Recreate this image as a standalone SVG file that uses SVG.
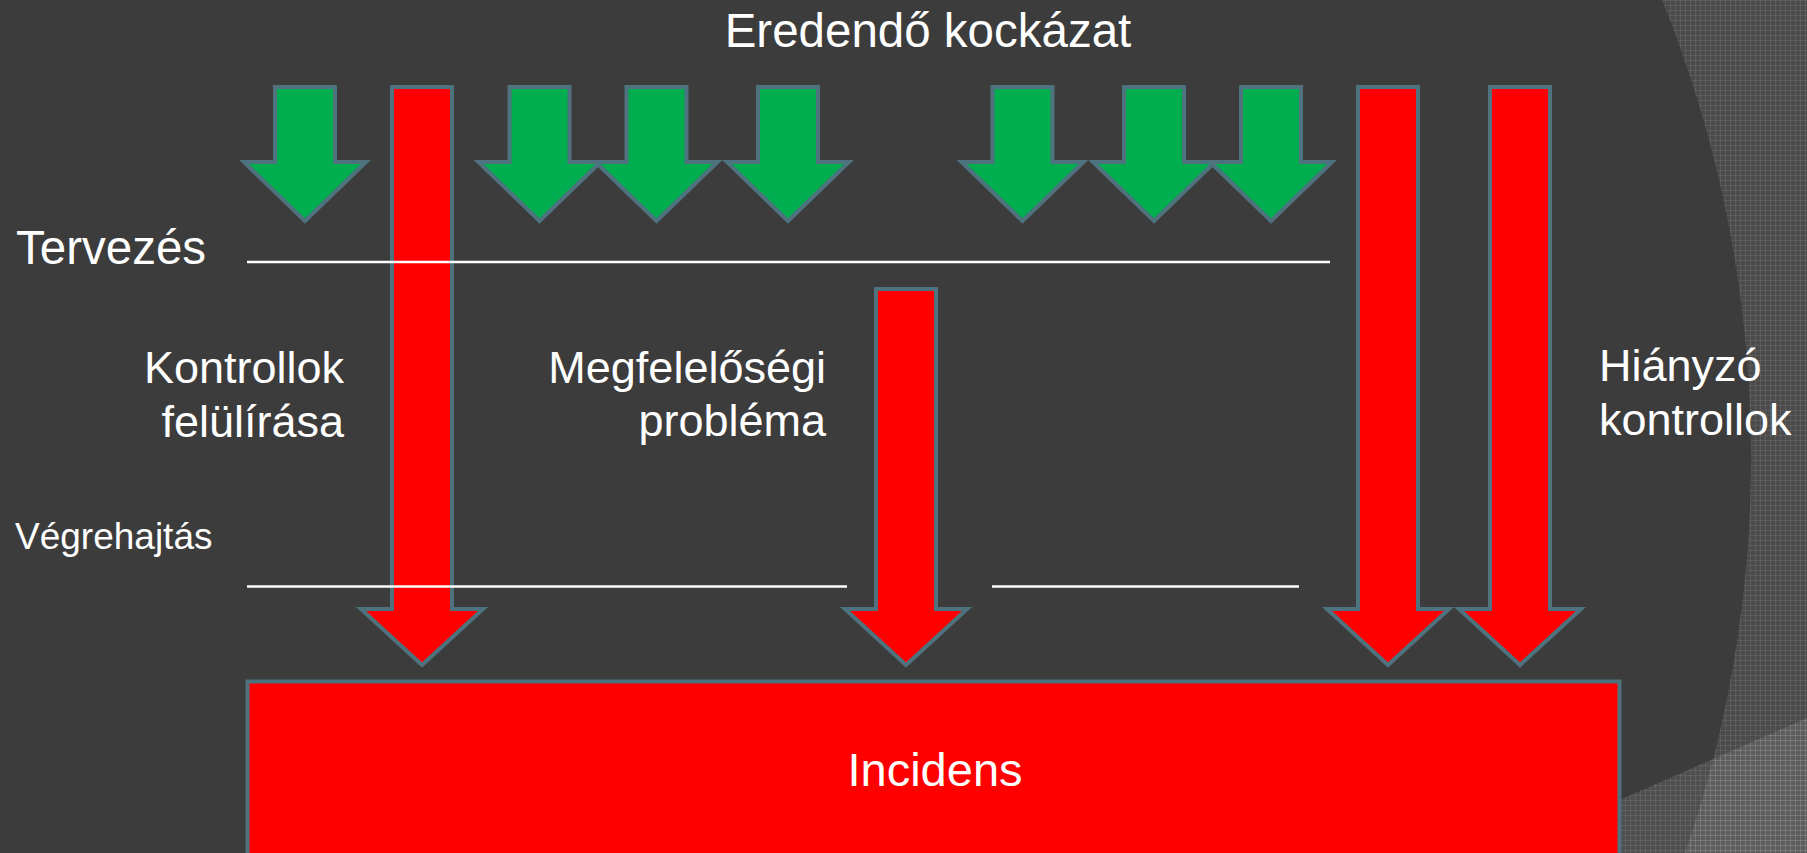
<svg xmlns="http://www.w3.org/2000/svg" width="1807" height="853" viewBox="0 0 1807 853">
<defs>
<style>
.txt{font-family:"Liberation Sans",Arial,sans-serif;fill:#ffffff}
.g{fill:#00ad4f;stroke:#4e737e;stroke-width:4;stroke-linejoin:miter}
.r{fill:#ff0000;stroke:#4e737e;stroke-width:4;stroke-linejoin:miter}
.sep{stroke:#ffffff;stroke-width:2.5}
</style>
<pattern id="tex" width="5" height="5" patternUnits="userSpaceOnUse">
<rect width="5" height="5" fill="none"/>
<path d="M0 0.5H5M0.5 0V5" stroke="#ffffff" stroke-opacity="0.08" stroke-width="1"/>
</pattern>
<path id="ga" d="M-30 87H30V162H61L0 221L-61 162H-30Z"/>
</defs>
<g id="background">
<rect width="1807" height="853" fill="#3c3c3c"/>
<path d="M1662 0H1807V853H1685A1219 1219 0 0 0 1662 0Z" fill="#4b4b4b"/>
<path d="M1662 0H1807V853H1685A1219 1219 0 0 0 1662 0Z" fill="url(#tex)"/>
<polygon points="1400,896 1807,718 1807,853 1400,853" fill="#ffffff" fill-opacity="0.1"/>
<polygon points="1400,896 1807,718 1807,853 1400,853" fill="url(#tex)"/>
</g>
<g id="title"><text class="txt" x="928" y="47" font-size="47.5" text-anchor="middle">Eredendő kockázat</text></g>
<g id="inherent-risk-arrows">
<g id="green1"><use href="#ga" class="g" x="305"/></g>
<g id="green2"><use href="#ga" class="g" x="539.5"/></g>
<g id="green3"><use href="#ga" class="g" x="656.5"/></g>
<g id="green4"><use href="#ga" class="g" x="788"/></g>
<g id="green5"><use href="#ga" class="g" x="1022.5"/></g>
<g id="green6"><use href="#ga" class="g" x="1154"/></g>
<g id="green7"><use href="#ga" class="g" x="1271"/></g>
</g>
<g id="connectors">
<g id="red1"><path class="r" d="M392 87H452V609H483L422 665L361 609H392Z"/></g>
<g id="red2"><path class="r" d="M876 289H936V609H967L906 665L845 609H876Z"/></g>
<g id="red3"><path class="r" d="M1358 87H1418V609H1449L1388 665L1327 609H1358Z"/></g>
<g id="red4"><path class="r" d="M1490 87H1550V609H1581L1520 665L1459 609H1490Z"/></g>
</g>
<g id="separators">
<line class="sep" x1="247" y1="262" x2="1330" y2="262"/>
<line class="sep" x1="247" y1="586.5" x2="847" y2="586.5"/>
<line class="sep" x1="992" y1="586.5" x2="1299" y2="586.5"/>
</g>
<g id="phase-labels">
<text class="txt" x="16" y="264" font-size="47.5">Tervezés</text>
<text class="txt" x="15" y="549" font-size="37">Végrehajtás</text>
</g>
<g id="label-kontrollok">
<text class="txt" font-size="45" text-anchor="end"><tspan x="344" y="383">Kontrollok</tspan><tspan x="344" y="437">felülírása</tspan></text>
</g>
<g id="label-megfeleloseg">
<text class="txt" font-size="45" text-anchor="end"><tspan x="826" y="383">Megfelelőségi</tspan><tspan x="826" y="436">probléma</tspan></text>
</g>
<g id="label-hianyzo">
<text class="txt" font-size="45"><tspan x="1599" y="381">Hiányzó</tspan><tspan x="1599" y="435">kontrollok</tspan></text>
</g>
<g id="incidens">
<rect x="247.5" y="681.5" width="1372" height="180" fill="#ff0000" stroke="#4e737e" stroke-width="4"/>
<text class="txt" x="935" y="786" font-size="47" text-anchor="middle">Incidens</text>
</g>
</svg>
